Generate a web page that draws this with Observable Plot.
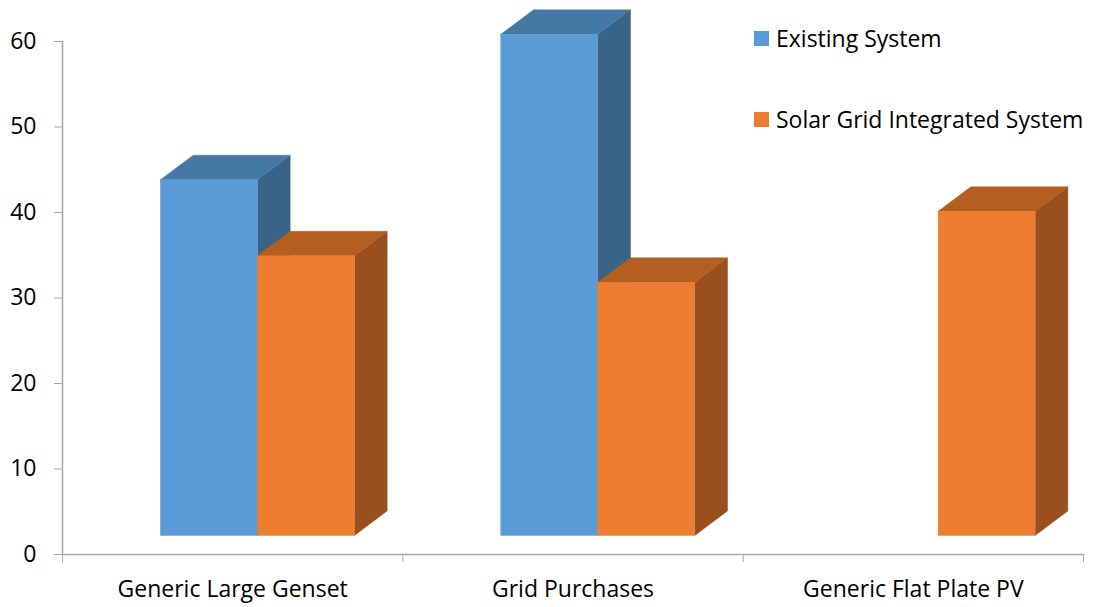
<!DOCTYPE html>
<html>
<head>
<meta charset="utf-8">
<script src="https://cdn.jsdelivr.net/npm/d3@7"></script>
<script src="https://cdn.jsdelivr.net/npm/@observablehq/plot@0.6"></script>
<style>
  html, body { margin: 0; padding: 0; background: #fff; }
  #wrap { position: relative; width: 1093px; height: 607px; font-family: "Open Sans", sans-serif; }
  #wrap svg text { fill: #000; }
  .legend { position: absolute; left: 754px; top: 24px; font-size: 23px; color: #000; }
  .legend .item { display: flex; align-items: center; height: 28px; margin-bottom: 53px; white-space: nowrap; }
  .legend .sw { width: 15px; height: 15px; margin-right: 7px; flex: none; }
</style>
</head>
<body>
<div id="wrap"></div>
<script>
// ---- data ----
const categories = ["Generic Large Genset", "Grid Purchases", "Generic Flat Plate PV"];
const series = ["Existing System", "Solar Grid Integrated System"];
const existing = [41.6, 58.6, null];
const solar = [32.7, 29.6, 37.9];
const yTicks = [0, 10, 20, 30, 40, 50, 60];

// ---- styles ----
const frontColors = ["#5B9BD5", "#ED7D31"];
const topColors = ["#4678A6", "#B55E22"];
const sideColors = ["#3A6487", "#9A4F1E"];

// ---- layout ----
const W = 1093, H = 607, mL = 62, mR = 10, mT = 41, mB = 53;
const pxX = categories.length / (W - mL - mR); // data units per px (x)
const pxY = 60 / (H - mT - mB);               // data units per px (y)
const barW = 97 * pxX, shiftX = 25.3 * pxX;
const depthX = 32.7 * pxX, depthY = 24.5 * pxY, floorY = 18.6 * pxY;

const valuesBySeries = [existing, solar];
const bars = [];
valuesBySeries.forEach((vals, s) => {
  vals.forEach((v, i) => {
    if (v == null) return;
    const xl = i + 0.5 + shiftX + (s - 1) * barW;
    bars.push({id: `${s}-${i}`, s, i, v, xl, xr: xl + barW, y0: floorY, y1: floorY + v});
  });
});
const sidePts = bars.flatMap(b => [
  {id: b.id, s: b.s, x: b.xr, lo: b.y0, hi: b.y1},
  {id: b.id, s: b.s, x: b.xr + depthX, lo: b.y0 + depthY, hi: b.y1 + depthY}
]);
const topPts = bars.flatMap(b => [
  {id: b.id, s: b.s, y: b.y1, l: b.xl, r: b.xr},
  {id: b.id, s: b.s, y: b.y1 + depthY, l: b.xl + depthX, r: b.xr + depthX}
]);

const marks = [
  Plot.ruleY([0], {stroke: "#a6a6a6", strokeWidth: 1.5}),
  Plot.ruleX([0], {stroke: "#a6a6a6", strokeWidth: 1.5})
];
[0, 1].forEach(s => {
  marks.push(
    Plot.areaY(sidePts.filter(d => d.s === s), {x: "x", y1: "lo", y2: "hi", z: "id", fill: sideColors[s], stroke: sideColors[s], strokeWidth: 0.5, curve: "linear"}),
    Plot.areaX(topPts.filter(d => d.s === s), {y: "y", x1: "l", x2: "r", z: "id", fill: topColors[s], stroke: topColors[s], strokeWidth: 0.5, curve: "linear"}),
    Plot.rect(bars.filter(d => d.s === s), {x1: "xl", x2: "xr", y1: "y0", y2: "y1", fill: frontColors[s], stroke: frontColors[s], strokeWidth: 0.5})
  );
});
marks.push(
  Plot.text(categories, {x: (d, i) => i + 0.5, y: () => 0, text: d => d, dy: 35, fill: "#000", fontSize: 23})
);

const chart = Plot.plot({
  width: W, height: H,
  marginLeft: mL, marginRight: mR, marginTop: mT, marginBottom: mB,
  style: {color: "#a6a6a6", fontFamily: "Open Sans", fontSize: "23px", background: "transparent"},
  x: {type: "linear", domain: [0, categories.length], ticks: categories.length, tickFormat: () => "", tickSize: 8, label: null},
  y: {domain: [0, 60], ticks: yTicks.length, tickSize: 8, tickPadding: 18, label: null, tickFormat: d => String(d)},
  marks
});
const wrap = document.getElementById("wrap");
wrap.appendChild(chart);

const legend = document.createElement("div");
legend.className = "legend";
series.forEach((name, s) => {
  const item = document.createElement("div");
  item.className = "item";
  const sw = document.createElement("span");
  sw.className = "sw";
  sw.style.background = frontColors[s];
  const t = document.createElement("span");
  t.textContent = name;
  item.appendChild(sw); item.appendChild(t);
  legend.appendChild(item);
});
wrap.appendChild(legend);
</script>
</body>
</html>
